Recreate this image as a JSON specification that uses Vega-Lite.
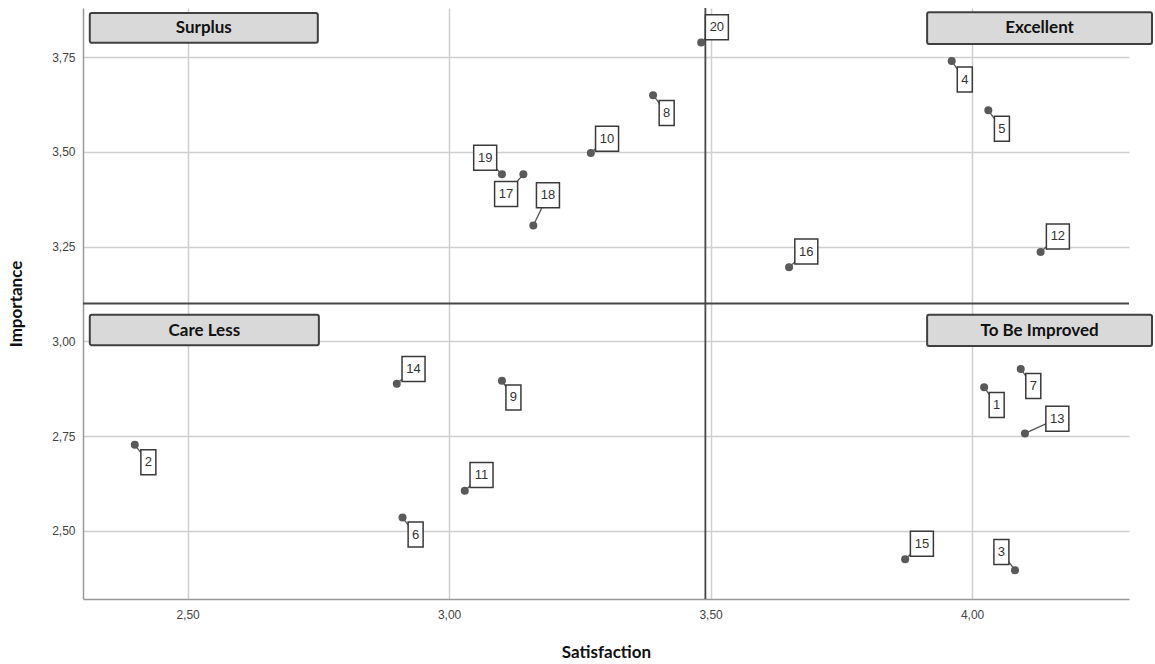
{
  "$schema": "https://vega.github.io/schema/vega-lite/v6.json",
  "autosize": "none",
  "width": 1046,
  "height": 591,
  "padding": {"left": 83, "top": 8, "right": 26, "bottom": 65},
  "background": "white",
  "config": {
    "view": {"stroke": null},
    "font": "Liberation Sans"
  },
  "datasets": {
    "pts": [
      {"id": "1", "sat": 4.023, "imp": 2.879, "lx": 4.047, "ly": 2.832, "digits": "1"},
      {"id": "2", "sat": 2.399, "imp": 2.727, "lx": 2.425, "ly": 2.681, "digits": "1"},
      {"id": "3", "sat": 4.082, "imp": 2.396, "lx": 4.056, "ly": 2.444, "digits": "1"},
      {"id": "4", "sat": 3.961, "imp": 3.740, "lx": 3.986, "ly": 3.691, "digits": "1"},
      {"id": "5", "sat": 4.031, "imp": 3.610, "lx": 4.057, "ly": 3.561, "digits": "1"},
      {"id": "6", "sat": 2.911, "imp": 2.535, "lx": 2.936, "ly": 2.490, "digits": "1"},
      {"id": "7", "sat": 4.093, "imp": 2.927, "lx": 4.117, "ly": 2.882, "digits": "1"},
      {"id": "8", "sat": 3.390, "imp": 3.650, "lx": 3.416, "ly": 3.603, "digits": "1"},
      {"id": "9", "sat": 3.101, "imp": 2.896, "lx": 3.123, "ly": 2.852, "digits": "1"},
      {"id": "10", "sat": 3.271, "imp": 3.497, "lx": 3.302, "ly": 3.535, "digits": "2"},
      {"id": "11", "sat": 3.030, "imp": 2.606, "lx": 3.062, "ly": 2.647, "digits": "2"},
      {"id": "12", "sat": 4.131, "imp": 3.236, "lx": 4.164, "ly": 3.277, "digits": "2"},
      {"id": "13", "sat": 4.101, "imp": 2.757, "lx": 4.163, "ly": 2.796, "digits": "2"},
      {"id": "14", "sat": 2.900, "imp": 2.888, "lx": 2.932, "ly": 2.927, "digits": "2"},
      {"id": "15", "sat": 3.872, "imp": 2.425, "lx": 3.904, "ly": 2.466, "digits": "2"},
      {"id": "16", "sat": 3.650, "imp": 3.196, "lx": 3.683, "ly": 3.237, "digits": "2"},
      {"id": "17", "sat": 3.142, "imp": 3.441, "lx": 3.109, "ly": 3.389, "digits": "2"},
      {"id": "18", "sat": 3.161, "imp": 3.306, "lx": 3.189, "ly": 3.386, "digits": "2"},
      {"id": "19", "sat": 3.101, "imp": 3.441, "lx": 3.069, "ly": 3.485, "digits": "2"},
      {"id": "20", "sat": 3.482, "imp": 3.789, "lx": 3.512, "ly": 3.829, "digits": "2"}
    ],
    "quads": [
      {"name": "Surplus", "x1": 2.313, "x2": 2.749, "y1": 3.867, "y2": 3.788, "cx": 2.531, "cy": 3.826},
      {"name": "Excellent", "x1": 3.914, "x2": 4.344, "y1": 3.869, "y2": 3.785, "cx": 4.129, "cy": 3.826},
      {"name": "Care Less", "x1": 2.313, "x2": 2.751, "y1": 3.070, "y2": 2.990, "cx": 2.532, "cy": 3.028},
      {"name": "To Be Improved", "x1": 3.914, "x2": 4.344, "y1": 3.070, "y2": 2.988, "cx": 4.129, "cy": 3.028}
    ]
  },
  "layer": [
    {
      "data": {"name": "pts"},
      "mark": {"type": "point", "opacity": 0},
      "encoding": {
        "x": {
          "field": "sat", "type": "quantitative",
          "scale": {"domain": [2.3, 4.3], "nice": false, "zero": false},
          "axis": {
            "title": "Satisfaction",
            "values": [2.5, 3.0, 3.5, 4.0],
            "labelExpr": "replace(format(datum.value, '.2f'), '.', ',')",
            "grid": true, "gridColor": "#cfcfcf", "gridWidth": 1.5,
            "domainColor": "#999999", "domainWidth": 1.5,
            "ticks": false, "labelPadding": 10,
            "labelFont": "Liberation Sans", "labelFontSize": 12, "labelColor": "#444444",
            "titleFont": "Lato", "titleFontSize": 17, "titleFontWeight": "bold", "titleColor": "#111111",
            "titlePadding": 24
          }
        },
        "y": {
          "field": "imp", "type": "quantitative",
          "scale": {"domain": [2.32, 3.88], "nice": false, "zero": false},
          "axis": {
            "title": "Importance",
            "values": [2.5, 2.75, 3.0, 3.25, 3.5, 3.75],
            "labelExpr": "replace(format(datum.value, '.2f'), '.', ',')",
            "grid": true, "gridColor": "#cfcfcf", "gridWidth": 1.5,
            "domainColor": "#999999", "domainWidth": 1.5,
            "ticks": false, "labelPadding": 8,
            "labelFont": "Liberation Sans", "labelFontSize": 12, "labelColor": "#444444",
            "titleFont": "Lato", "titleFontSize": 17, "titleFontWeight": "bold", "titleColor": "#111111",
            "titlePadding": 26
          }
        }
      }
    },
    {
      "data": {"name": "quads"},
      "mark": {"type": "rect", "fill": "#d9d9d9", "stroke": "#404040", "strokeWidth": 2, "cornerRadius": 2},
      "encoding": {
        "x": {"field": "x1", "type": "quantitative"},
        "x2": {"field": "x2"},
        "y": {"field": "y1", "type": "quantitative"},
        "y2": {"field": "y2"}
      }
    },
    {
      "data": {"values": [{"v": 3.49}]},
      "mark": {"type": "rule", "color": "#474747", "strokeWidth": 1.8},
      "encoding": {"x": {"field": "v", "type": "quantitative"}}
    },
    {
      "data": {"values": [{"v": 3.10}]},
      "mark": {"type": "rule", "color": "#474747", "strokeWidth": 1.8},
      "encoding": {"y": {"field": "v", "type": "quantitative"}}
    },
    {
      "data": {"name": "pts"},
      "mark": {"type": "rule", "color": "#555555", "strokeWidth": 1.3},
      "encoding": {
        "x": {"field": "sat", "type": "quantitative"},
        "y": {"field": "imp", "type": "quantitative"},
        "x2": {"field": "lx"},
        "y2": {"field": "ly"}
      }
    },
    {
      "data": {"name": "pts"},
      "mark": {"type": "circle", "color": "#5a5a5a", "opacity": 1, "size": 64},
      "encoding": {
        "x": {"field": "sat", "type": "quantitative"},
        "y": {"field": "imp", "type": "quantitative"}
      }
    },
    {
      "data": {"name": "pts"},
      "mark": {"type": "point", "filled": true, "fill": "white", "stroke": "#3a3a3a", "strokeWidth": 1.5, "opacity": 1, "fillOpacity": 1, "size": 625},
      "encoding": {
        "x": {"field": "lx", "type": "quantitative"},
        "y": {"field": "ly", "type": "quantitative"},
        "shape": {
          "field": "digits", "type": "nominal",
          "scale": {"domain": ["1", "2"], "range": ["M-0.6,-1H0.6V1H-0.6Z", "M-0.92,-1H0.92V1H-0.92Z"]},
          "legend": null
        }
      }
    },
    {
      "data": {"name": "pts"},
      "mark": {"type": "text", "font": "Liberation Sans", "fontSize": 13, "color": "#333333", "align": "center", "baseline": "middle"},
      "encoding": {
        "x": {"field": "lx", "type": "quantitative"},
        "y": {"field": "ly", "type": "quantitative"},
        "text": {"field": "id"}
      }
    },
    {
      "data": {"name": "quads"},
      "mark": {"type": "text", "font": "Lato", "fontSize": 17, "fontWeight": "bold", "color": "#111111", "align": "center", "baseline": "middle"},
      "encoding": {
        "x": {"field": "cx", "type": "quantitative"},
        "y": {"field": "cy", "type": "quantitative"},
        "text": {"field": "name"}
      }
    }
  ]
}
